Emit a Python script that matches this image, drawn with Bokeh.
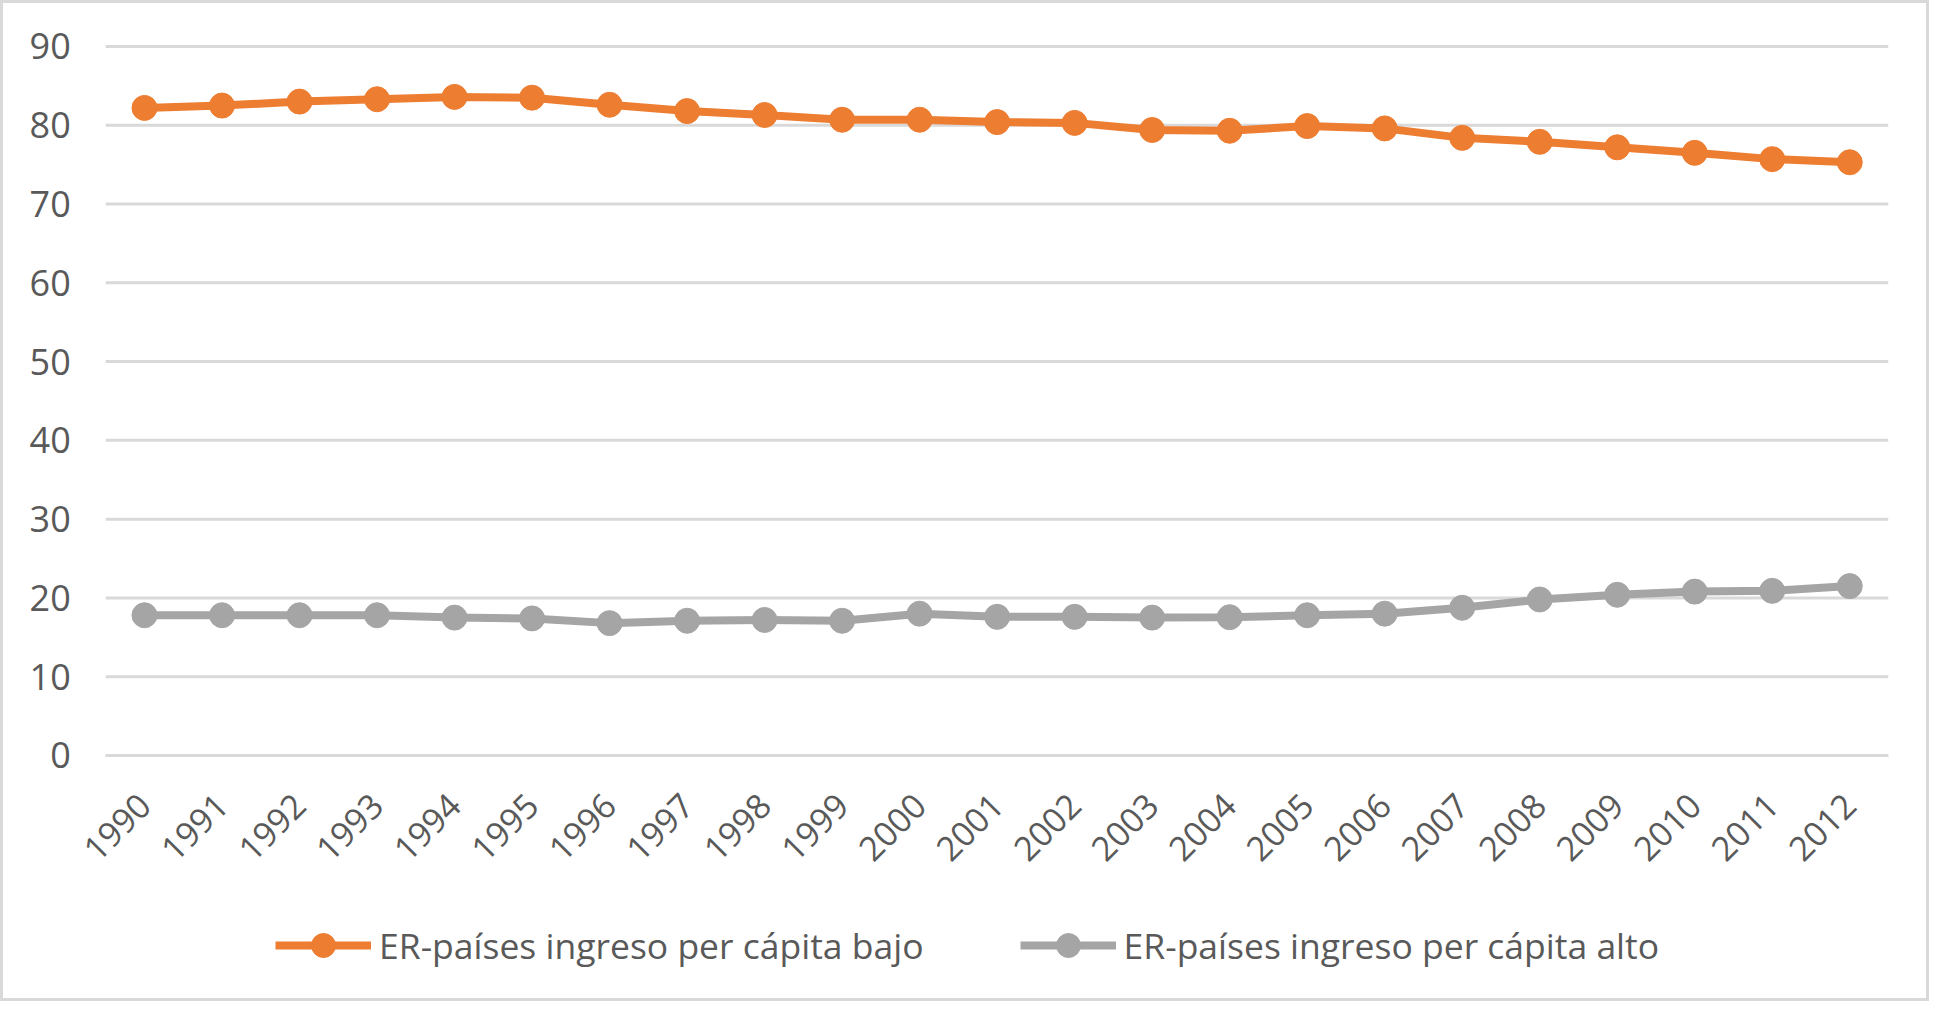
from bokeh.plotting import figure
from bokeh.models import Range1d, FixedTicker, Legend, LegendItem
from bokeh.embed import file_html
from bokeh.resources import INLINE
import math

years = list(range(1990, 2013))
bajo = [82.2, 82.5, 83.0, 83.3, 83.6, 83.5, 82.6, 81.8, 81.3, 80.7, 80.7, 80.4,
        80.3, 79.4, 79.3, 79.9, 79.6, 78.4, 77.9, 77.2, 76.5, 75.7, 75.3]
alto = [17.8, 17.8, 17.8, 17.8, 17.5, 17.4, 16.8, 17.1, 17.2, 17.1, 18.0, 17.6,
        17.6, 17.5, 17.55, 17.8, 18.0, 18.75, 19.8, 20.4, 20.8, 20.9, 21.5]
labels = ["ER-países ingreso per cápita bajo", "ER-países ingreso per cápita alto"]
y_ticks = [0, 10, 20, 30, 40, 50, 60, 70, 80, 90]

ORANGE = "#ED7D31"
GRAY = "#A5A5A5"
TEXT = "#595959"
GRID = "#D9D9D9"
FONT = "Open Sans"

# category band edges of the plot area
X0 = years[0] - 0.5
X1 = years[-1] + 0.5

# the frame is widened to the left, above 90 and below 0 so that the
# y labels, the rotated x labels and the legend are all drawn inside it
p = figure(width=1929, height=1001, output_backend="svg", toolbar_location=None,
           x_range=Range1d(X0 - 1.19, X1), y_range=Range1d(-29.96, 93.17),
           min_border_left=10, min_border_right=44, min_border_top=18,
           min_border_bottom=13)
p.outline_line_color = None
p.background_fill_color = "white"
p.border_fill_color = "white"
p.styles = {"border": "3px solid #D9D9D9", "box-sizing": "border-box"}

p.xgrid.grid_line_color = None
p.ygrid.grid_line_color = None
# horizontal gridlines limited to the plot area
p.segment(x0=[X0] * len(y_ticks), x1=[X1] * len(y_ticks), y0=y_ticks, y1=y_ticks,
          line_color=GRID, line_width=3, level="underlay")

p.yaxis.fixed_location = X0
p.yaxis.ticker = FixedTicker(ticks=y_ticks)
p.yaxis.axis_line_color = None
p.yaxis.major_tick_line_color = None
p.yaxis.minor_tick_line_color = None
p.yaxis.major_tick_out = 0
p.yaxis.major_tick_in = 0
p.yaxis.major_label_standoff = 35
p.yaxis.major_label_text_font = FONT
p.yaxis.major_label_text_font_size = "36px"
p.yaxis.major_label_text_color = TEXT

p.xaxis.fixed_location = 0
p.xaxis.bounds = (X0, X1)
p.xaxis.ticker = FixedTicker(ticks=years)
p.xaxis.major_label_overrides = {y: str(y) for y in years}
p.xaxis.axis_line_color = GRID
p.xaxis.axis_line_width = 3
p.xaxis.major_tick_line_color = None
p.xaxis.minor_tick_line_color = None
p.xaxis.major_tick_out = 0
p.xaxis.major_tick_in = 0
p.xaxis.major_label_standoff = 44
p.xaxis.major_label_orientation = math.pi / 4
p.xaxis.major_label_text_font = FONT
p.xaxis.major_label_text_font_size = "34px"
p.xaxis.major_label_text_color = TEXT

l1 = p.line(years, bajo, line_color=ORANGE, line_width=8)
s1 = p.scatter(years, bajo, size=25, fill_color=ORANGE, line_color=ORANGE)
l2 = p.line(years, alto, line_color=GRAY, line_width=8)
s2 = p.scatter(years, alto, size=25, fill_color=GRAY, line_color=GRAY)

legend = Legend(items=[LegendItem(label=labels[0], renderers=[l1, s1]),
                       LegendItem(label=labels[1], renderers=[l2, s2])],
                orientation="horizontal", location=(262, 16))
legend.border_line_color = None
legend.background_fill_color = None
legend.background_fill_alpha = 0
legend.label_text_font = FONT
legend.label_text_font_size = "35.5px"
legend.label_text_color = TEXT
legend.glyph_width = 96
legend.glyph_height = 60
legend.label_standoff = 8
legend.spacing = 96
legend.margin = 0
legend.padding = 0
p.add_layout(legend, "center")

open("out.html", "w").write(file_html(p, INLINE))
